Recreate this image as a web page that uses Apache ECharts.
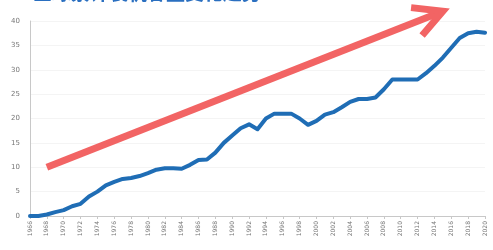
<!DOCTYPE html>
<html>
<head>
<meta charset="utf-8">
<script src="https://cdn.jsdelivr.net/npm/echarts@6/dist/echarts.min.js"></script>
<style>
    html, body { margin: 0; padding: 0; background: #fff; }
    #main { width: 493px; height: 250px; }
</style>
</head>
<body>
<div id="main"></div>
<script>
// 年份 1966-2020
var years = [];
for (var y = 1966; y <= 2020; y++) { years.push(String(y)); }

var values = [
    0, 0, 0.3, 0.8, 1.2, 2, 2.5, 4, 5, 6.3,
    7, 7.6, 7.8, 8.2, 8.8, 9.5, 9.8, 9.8, 9.7, 10.5,
    11.5, 11.6, 13, 15, 16.5, 18, 18.8, 17.8, 20, 21,
    21, 21, 20, 18.7, 19.5, 20.8, 21.3, 22.3, 23.4, 24,
    24, 24.3, 26, 28, 28, 28, 28, 29.3, 30.8, 32.5,
    34.5, 36.5, 37.5, 37.8, 37.6
];

var yTicks = [0, 5, 10, 15, 20, 25, 30, 35, 40];

// 趋势箭头 (数据坐标: 类目, 数值)
var arrowStart = ['1968', 10];
var arrowEnd = ['2015', 42];

var myChart = echarts.init(document.getElementById("main"));
myChart.setOption({
    animation: false,
    title: {
        text: '全球累计装机容量变化趋势',
        left: 28,
        top: -22,
        textStyle: {
            color: '#2a6fc0',
            fontSize: 19,
            fontWeight: 'bold',
            fontFamily: 'Noto Sans CJK SC'
        }
    },
    grid: {
        left: 30,
        right: 8,
        top: 21,
        bottom: 34
    },
    xAxis: {
        type: 'category',
        data: years,
        boundaryGap: false,
        axisLine: { lineStyle: { color: '#c8c8c8', width: 1 } },
        axisTick: { show: true, interval: 1, length: 3, lineStyle: { color: '#c8c8c8' } },
        axisLabel: {
            interval: 1,
            rotate: 90,
            fontSize: 6,
            color: '#777',
            margin: 5,
            fontFamily: 'DejaVu Sans'
        },
        splitLine: { show: false }
    },
    yAxis: {
        type: 'value',
        min: yTicks[0],
        max: yTicks[yTicks.length - 1],
        interval: 5,
        axisLine: { show: true, lineStyle: { color: '#c8c8c8', width: 1 } },
        axisTick: { show: false },
        axisLabel: {
            fontSize: 7,
            color: '#777',
            margin: 10,
            fontFamily: 'DejaVu Sans'
        },
        splitLine: { show: true, lineStyle: { color: '#f4f4f4' } }
    },
    series: [
        {
            type: 'line',
            data: values,
            showSymbol: false,
            lineStyle: { color: '#1f6db5', width: 4, cap: 'round', join: 'round' }
        }
    ]
});

// 箭头: 用坐标系换算位置
var p0 = myChart.convertToPixel({ gridIndex: 0 }, [years.indexOf(arrowStart[0]) - 0.4, arrowStart[1]]);
var p1 = myChart.convertToPixel({ gridIndex: 0 }, [years.indexOf(arrowEnd[0]), arrowEnd[1]]);
var back = Math.atan2(p0[1] - p1[1], p0[0] - p1[0]);
var headLen = 32;
var headAng = 28 * Math.PI / 180;
var h1 = [p1[0] + headLen * Math.cos(back + headAng), p1[1] + headLen * Math.sin(back + headAng)];
var h2 = [p1[0] + headLen * Math.cos(back - headAng), p1[1] + headLen * Math.sin(back - headAng)];
var arrowStyle = { stroke: '#f26464', lineWidth: 7, lineCap: 'butt', lineJoin: 'miter', fill: null };
myChart.setOption({
    graphic: [
        {
            type: 'line',
            shape: { x1: p0[0], y1: p0[1], x2: p1[0], y2: p1[1] },
            style: arrowStyle,
            silent: true
        },
        {
            type: 'polyline',
            shape: { points: [h1, p1, h2] },
            style: arrowStyle,
            silent: true
        }
    ]
});
</script>
</body>
</html>
